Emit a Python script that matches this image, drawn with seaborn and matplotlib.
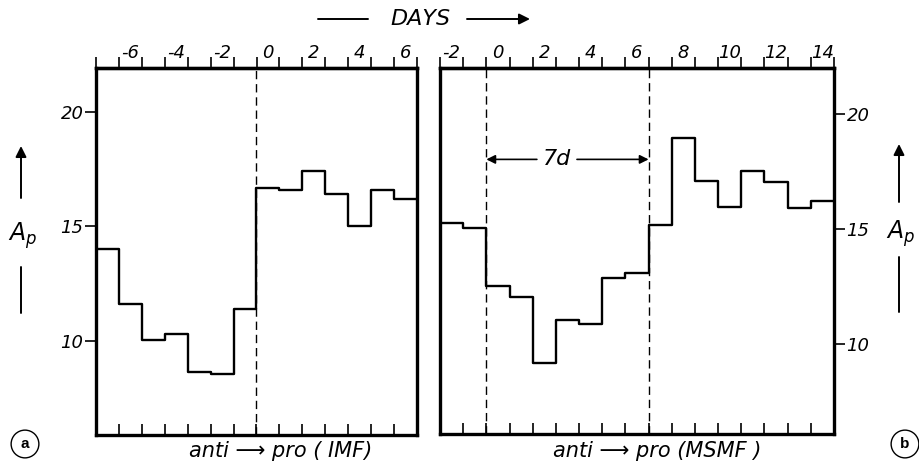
import numpy as np
import matplotlib
matplotlib.use("Agg")
import matplotlib.pyplot as plt
import seaborn as sns
from matplotlib.ticker import FixedLocator, NullFormatter

# ---- data ----
days_a = list(range(-7, 7))
ap_a = [14.0, 11.63, 10.03, 10.29, 8.65, 8.58, 11.41,
        16.66, 16.57, 17.41, 16.40, 15.03, 16.57, 16.18]
days_b = list(range(-2, 15))
ap_b = [15.26, 15.03, 12.52, 12.03, 9.2, 11.04, 10.9, 12.86, 13.1,
        15.19, 18.97, 17.09, 15.95, 17.51, 17.05, 15.91, 16.24]
top_labels_a = [-6, -4, -2, 0, 2, 4, 6]
top_labels_b = [-2, 0, 2, 4, 6, 8, 10, 12, 14]
y_ticks = [10, 15, 20]
dashed_a = [-0.5]
dashed_b = [-0.5, 6.5]
label_a = "anti \u27f6 pro ( IMF)"
label_b = "anti \u27f6 pro (MSMF )"

sns.set_style("white")
plt.rcParams['font.family'] = ['DejaVu Sans']
plt.rcParams['mathtext.fontset'] = 'dejavusans'
plt.rcParams['text.color'] = 'black'
plt.rcParams['xtick.color'] = 'black'
plt.rcParams['ytick.color'] = 'black'
plt.rcParams['axes.labelcolor'] = 'black'

fig = plt.figure(figsize=(9.2, 4.67), dpi=100)
ax_a = fig.add_axes([96/920, 1-435/467, (417-96)/920, (435-68)/467])
ax_b = fig.add_axes([440/920, 1-434/467, (834-440)/920, (434-68)/467])

def panel(ax, days, vals, labels, dashed, ylim, side):
    edges = np.array(days, dtype=float) - 0.5
    edges = np.append(edges, days[-1] + 0.5)
    yv = list(vals) + [vals[-1]]
    sns.lineplot(x=edges, y=yv, drawstyle='steps-post', estimator=None,
                 sort=False, color='black', lw=1.7, ax=ax)
    ax.set_xlim(edges[0], edges[-1])
    ax.set_ylim(*ylim)
    for xd in dashed:
        ax.axvline(xd, color='black', lw=1.0, ls=(0, (6, 3.5)))
    for s in ax.spines.values():
        s.set_linewidth(2.4)
        s.set_color('black')
        s.set_visible(True)
    # bottom: inward ticks at interior bin edges
    ax.xaxis.set_major_locator(FixedLocator(list(edges[1:-1])))
    ax.xaxis.set_major_formatter(NullFormatter())
    ax.tick_params(axis='x', which='major', bottom=True, top=False,
                   direction='in', length=8, width=1.2, color='black')
    # top: outward ticks at all edges, labels at bin centres
    sec = ax.secondary_xaxis('top')
    sec.spines['top'].set_linewidth(2.4)
    sec.set_xticks(labels)
    sec.set_xticklabels([str(v) for v in labels], fontsize=13, style='oblique',
                        color='black')
    sec.xaxis.set_minor_locator(FixedLocator(list(edges)))
    sec.tick_params(axis='x', which='major', length=0, pad=4)
    sec.tick_params(axis='x', which='minor', direction='out', length=8,
                    width=1.2, color='black')
    # y axis
    ax.set_yticks(y_ticks)
    ax.set_yticklabels([str(v) for v in y_ticks], fontsize=13, style='oblique',
                       color='black')
    if side == 'right':
        ax.yaxis.tick_right()
        ax.tick_params(axis='y', left=False, right=True, labelleft=False,
                       labelright=True)
    else:
        ax.tick_params(axis='y', left=True, right=False)
    ax.tick_params(axis='y', direction='out', length=8, width=1.2, pad=1,
                   color='black')
    ax.set_xlabel('')
    ax.set_ylabel('')

panel(ax_a, days_a, ap_a, top_labels_a, dashed_a, (5.9, 21.9), 'left')
panel(ax_b, days_b, ap_b, top_labels_b, dashed_b, (6.1, 22.0), 'right')

# 7d arrow in panel b
y7 = 18.03
arr = dict(arrowstyle='-|>', color='black', lw=1.2, mutation_scale=13,
           shrinkA=0, shrinkB=0)
ax_b.annotate('', xy=(-0.5, y7), xytext=(1.68, y7), arrowprops=arr)
ax_b.annotate('', xy=(6.5, y7), xytext=(3.41, y7), arrowprops=arr)
ax_b.text(2.55, y7, '7d', ha='center', va='center', fontsize=16,
          style='oblique')

# figure-level annotations (figure pixels, origin bottom-left)
def fp(x, y_top):
    return (x / 920, 1 - y_top / 467)

line_kw = dict(arrowstyle='-', color='black', lw=1.4, shrinkA=0, shrinkB=0)
head_kw = dict(arrowstyle='-|>', color='black', lw=1.4, mutation_scale=16,
               shrinkA=0, shrinkB=0)

# DAYS header
fig.text(*fp(420, 19), 'DAYS', ha='center', va='center', fontsize=16,
         style='oblique')
fig.add_artist(matplotlib.patches.FancyArrowPatch(fp(318, 19), fp(368, 19),
               transform=fig.transFigure, **line_kw))
fig.add_artist(matplotlib.patches.FancyArrowPatch(fp(467, 19), fp(530, 19),
               transform=fig.transFigure, **head_kw))

# Ap side labels
for xc, a0, a1, ty, l0, l1 in [(21, 198, 146, 236, 267, 313),
                               (899, 202, 144, 234, 257, 312)]:
    fig.add_artist(matplotlib.patches.FancyArrowPatch(fp(xc, a0), fp(xc, a1),
                   transform=fig.transFigure, **head_kw))
    fig.add_artist(matplotlib.patches.FancyArrowPatch(fp(xc, l0), fp(xc, l1),
                   transform=fig.transFigure, **line_kw))
    fig.text(*fp(xc + 2, ty), r'$A_p$', ha='center', va='center', fontsize=17)

# bottom labels
fig.text(*fp(281, 451), label_a, ha='center', va='center', fontsize=15,
         style='oblique')
fig.text(*fp(657, 451), label_b, ha='center', va='center', fontsize=15,
         style='oblique')

# panel letters in circles
for xc, letter in [(25, 'a'), (905, 'b')]:
    fig.text(*fp(xc, 444), letter, ha='center', va='center', fontsize=11,
             fontweight='bold', family=['Liberation Sans', 'DejaVu Sans'],
             bbox=dict(boxstyle='circle,pad=0.45', fc='white', ec='black',
                       lw=1.0))

fig.savefig('out.png', dpi=100)
